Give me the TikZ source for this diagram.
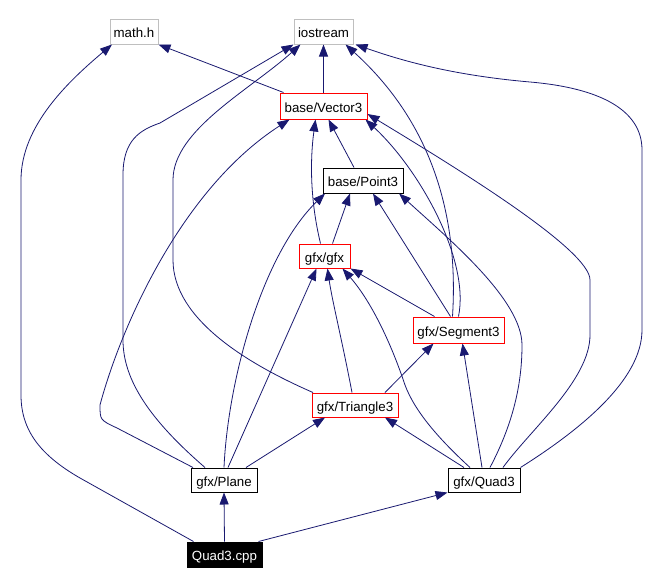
\documentclass[tikz,border=0pt]{standalone}
\usepackage{fontspec}
\setmainfont{Liberation Sans}
\usetikzlibrary{arrows.meta}
\definecolor{edgeblue}{RGB}{25,25,112}
\definecolor{boxgray}{RGB}{191,191,191}
\definecolor{boxred}{RGB}{255,0,0}
\begin{document}
\begin{tikzpicture}[x=1pt,y=-1pt,
  box/.style={draw, line width=1pt, inner sep=0pt, font=\fontsize{13.3}{15}\selectfont, text height=12pt, text depth=0pt},
  graybox/.style={box, draw=boxgray},
  redbox/.style={box, draw=boxred},
  blackbox/.style={box, draw=black},
  cppbox/.style={box, draw=black, fill=black, text=white},
  edge/.style={draw=edgeblue, line width=0.8pt, -{Triangle[length=12pt,width=9pt]}, fill=none}]
\fill[white] (0,0) rectangle (662,584);
\useasboundingbox (0,0) rectangle (662,584);

\node[graybox, minimum width=48pt, minimum height=25pt] (mathh) at (134,31.5) {math.h};
\node[graybox, minimum width=59pt, minimum height=25pt] (iostream) at (323.5,31.5) {iostream};
\node[redbox, minimum width=87pt, minimum height=26pt] (vec) at (323.5,106) {base/Vector3};
\node[blackbox, minimum width=80pt, minimum height=25pt] (pt) at (363,180.5) {base/Point3};
\node[redbox, minimum width=51pt, minimum height=24pt] (gfx) at (324.5,256) {gfx/gfx};
\node[redbox, minimum width=91pt, minimum height=26pt] (seg) at (458.5,330) {gfx/Segment3};
\node[redbox, minimum width=86pt, minimum height=24pt] (tri) at (355,405) {gfx/Triangle3};
\node[blackbox, minimum width=66pt, minimum height=24pt] (plane) at (224,480) {gfx/Plane};
\node[blackbox, minimum width=72pt, minimum height=24pt] (quad) at (484,480) {gfx/Quad3};
\node[cppbox, minimum width=75pt, minimum height=25pt] (cpp) at (224.5,554.5) {Quad3.cpp};

% Quad3.cpp
\draw[edge] (cpp.north) -- (plane.south);
\draw[edge] ([xshift=-4pt]cpp.north east) -- (quad.south west);
\draw[edge] ([xshift=-31pt]cpp.north) -- (80,478) .. controls (40,455) and (21,430) .. (21,395) -- (21,180) .. controls (21,125) and (70,80) .. ([xshift=-22pt]mathh.south);
% gfx/Plane
\draw[edge] ([xshift=22pt]plane.north) -- ([xshift=-30pt]tri.south);
\draw[edge] ([xshift=4pt]plane.north) -- ([xshift=-8pt]gfx.south);
\draw[edge] (plane.north) .. controls (228,380) and (262,255) .. ([xshift=-38pt]pt.south);
\draw[edge] ([xshift=-31pt]plane.north) -- (117,428) .. controls (100,420) .. (100,405) .. controls (120,330) and (180,190) .. ([xshift=10pt]vec.south west);
\draw[edge] ([xshift=-19pt]plane.north) .. controls (150,420) and (123,380) .. (123,340) -- (123,175) .. controls (123,140) and (140,130) .. (160,123) -- (iostream.south west);
% gfx/Triangle3
\draw[edge] ([xshift=30pt]tri.north) -- ([xshift=-25pt]seg.south);
\draw[edge] ([xshift=-3pt]tri.north) .. controls (342,340) and (332,300) .. ([xshift=3pt]gfx.south);
\draw[edge] ([xshift=-42pt]tri.north) .. controls (250,365) and (173,320) .. (173,260) -- (173,180) .. controls (173,130) and (250,90) .. ([xshift=-23pt]iostream.south);
% gfx/Quad3
\draw[edge] ([xshift=-20pt]quad.north) -- ([xshift=30pt]tri.south);
\draw[edge] ([xshift=-2pt]quad.north) -- ([xshift=4pt]seg.south);
\draw[edge] ([xshift=-14pt]quad.north) .. controls (440,440) and (415,412) .. (405,385) .. controls (390,340) and (370,300) .. ([xshift=18pt]gfx.south);
\draw[edge] ([xshift=6pt]quad.north) .. controls (515,420) and (522,380) .. (522,345) .. controls (522,300) and (450,240) .. ([xshift=36pt]pt.south);
\draw[edge] ([xshift=19pt]quad.north) .. controls (530,430) and (590,380) .. (590,335) -- (590,280) .. controls (590,250) and (460,170) .. ([yshift=-8pt]vec.east);
\draw[edge] (quad.north east) .. controls (580,430) and (642,380) .. (642,330) -- (642,150) .. controls (642,110) and (600,88) .. (530,82) .. controls (450,75) and (400,60) .. ([xshift=2pt]iostream.south east);
% gfx/Segment3
\draw[edge] ([xshift=-24pt]seg.north) -- (gfx.south east);
\draw[edge] ([xshift=-8pt]seg.north) -- ([xshift=10pt]pt.south);
\draw[edge] (seg.north) .. controls (470,260) and (420,170) .. ([xshift=-2pt]vec.south east);
\draw[edge] ([xshift=-6pt]seg.north) .. controls (458,230) and (440,130) .. ([xshift=22pt]iostream.south);
% gfx/gfx
\draw[edge] ([xshift=8pt]gfx.north) -- ([xshift=-13pt]pt.south);
\draw[edge] ([xshift=-4pt]gfx.north) .. controls (310,200) and (310,160) .. ([xshift=-8pt]vec.south);
% base/Point3
\draw[edge] ([xshift=-9pt]pt.north) -- ([xshift=5pt]vec.south);
% base/Vector3
\draw[edge] (vec.north) -- (iostream.south);
\draw[edge] ([xshift=-40pt]vec.north) -- (mathh.south east);
\end{tikzpicture}
\end{document}
